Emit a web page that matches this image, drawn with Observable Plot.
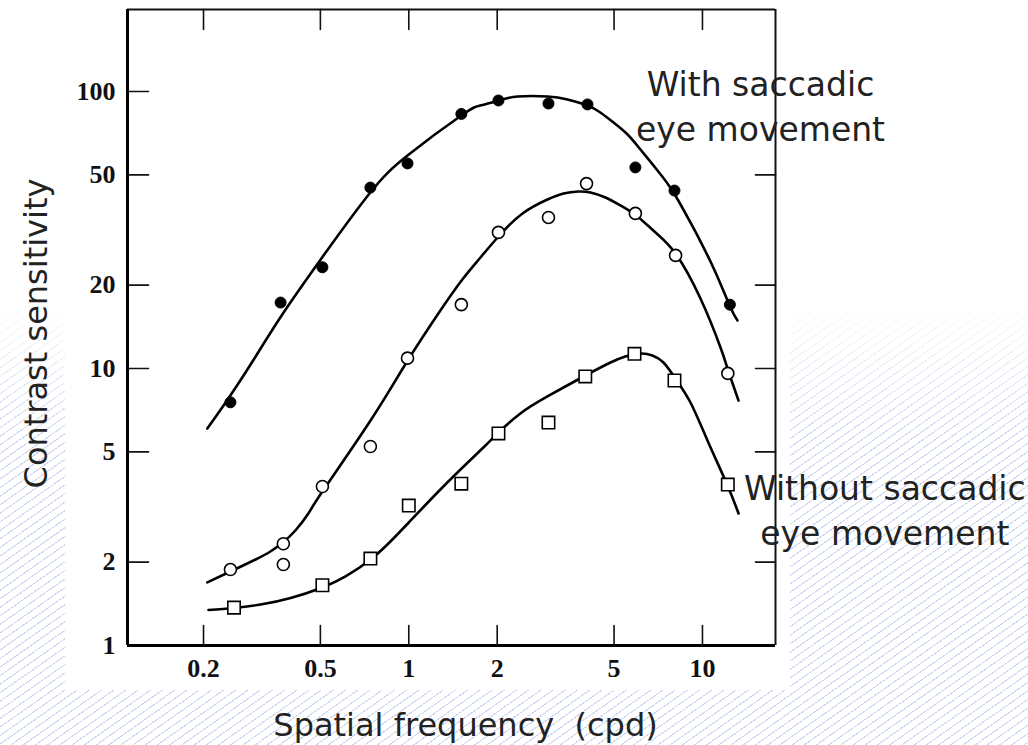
<!DOCTYPE html>
<html>
<head>
<meta charset="utf-8">
<script src="https://cdn.jsdelivr.net/npm/d3@7"></script>
<script src="https://cdn.jsdelivr.net/npm/@observablehq/plot@0.6"></script>
<style>
  html, body { margin: 0; padding: 0; background: #fff; }
  #wrap { position: relative; width: 1028px; height: 745px; overflow: hidden; background: #fff; }
  #bg {
    position: absolute; inset: 0;
    background: repeating-linear-gradient(145deg, rgba(160,178,228,0.55) 0 1px, rgba(255,255,255,0) 1px 7px);
    -webkit-mask-image: linear-gradient(to bottom, transparent 0, transparent 300px, black 440px);
    mask-image: linear-gradient(to bottom, transparent 0, transparent 300px, black 440px);
  }
  #paper { position: absolute; left: 65px; top: 0; width: 725px; height: 690px; background: #fff; }
  #chart { position: absolute; left: 0; top: 0; }
</style>
</head>
<body>
<div id="wrap">
  <div id="bg"></div>
  <div id="paper"></div>
  <div id="chart"></div>
</div>
<script>
// ---- axes ----
const xDomain = [0.1102, 17.73];
const yDomain = [1, 197.7];
const xTicks = [0.2, 0.5, 1, 2, 5, 10];
const yTicks = [1, 2, 5, 10, 20, 50, 100];
const yTicksRight = [2, 5, 10, 20, 50];

// ---- measured points ----
// filled circles: with saccadic eye movement
const filledFreq = [0.247, 0.366, 0.508, 0.74, 0.99, 1.51, 2.02, 2.99, 4.06, 5.91, 8.03, 12.4];
const filledSens = [7.55, 17.3, 23.2, 45, 55, 83, 92.8, 90.5, 89.8, 53.2, 43.9, 17.0];
// open circles
const openFreq = [0.247, 0.374, 0.374, 0.508, 0.74, 0.99, 1.51, 2.02, 2.99, 4.03, 5.91, 8.1, 12.2];
const openSens = [1.88, 2.33, 1.96, 3.75, 5.23, 10.9, 17.0, 31.0, 35.1, 46.5, 36.3, 25.6, 9.6];
// open squares: without saccadic eye movement
const squareFreq = [0.254, 0.508, 0.74, 1.0, 1.51, 2.02, 2.99, 3.99, 5.87, 8.03, 12.2];
const squareSens = [1.37, 1.65, 2.06, 3.2, 3.84, 5.83, 6.38, 9.36, 11.3, 9.05, 3.81];

// ---- fitted curves ----
const fitFilledFreq = [0.206, 0.243, 0.301, 0.369, 0.504, 0.735, 0.99, 1.51, 1.75, 2.02, 2.35, 2.97, 3.47, 4.06, 4.49, 4.98, 5.56, 6.15, 7.03, 7.97, 9.10, 9.85, 11.08, 12.46, 13.16];
const fitFilledSens = [6.07, 7.79, 11.05, 15.54, 24.96, 42.83, 58.74, 81.9, 89.0, 92.8, 95.9, 95.9, 93.6, 89.0, 84.0, 77.3, 69.96, 61.73, 51.86, 43.19, 33.66, 28.73, 22.22, 16.61, 14.91];
const fitOpenFreq = [0.206, 0.247, 0.301, 0.338, 0.372, 0.411, 0.455, 0.508, 0.741, 0.982, 1.281, 1.522, 1.754, 2.02, 2.439, 2.967, 3.364, 3.782, 4.155, 4.674, 5.258, 6.006, 6.918, 8.091, 9.845, 11.52, 12.17, 13.27];
const fitOpenSens = [1.689, 1.85, 2.044, 2.184, 2.354, 2.601, 2.996, 3.597, 6.492, 10.51, 16.19, 20.96, 25.16, 29.96, 36.27, 40.75, 42.83, 43.55, 43.19, 41.43, 38.77, 35.39, 30.97, 26.02, 17.89, 11.91, 10.0, 7.66];
const fitSquareFreq = [0.208, 0.253, 0.313, 0.396, 0.508, 0.609, 0.741, 0.866, 1.0, 1.233, 1.5, 1.824, 2.02, 2.399, 2.966, 3.996, 4.862, 5.46, 6.151, 6.755, 7.366, 8.091, 9.103, 10.4, 12.17, 13.27];
const fitSquareSens = [1.343, 1.366, 1.406, 1.484, 1.62, 1.775, 2.044, 2.374, 2.78, 3.509, 4.32, 5.272, 5.875, 6.878, 7.924, 9.434, 10.51, 11.05, 11.33, 11.14, 10.51, 9.2, 7.539, 5.496, 3.782, 2.996];

// ---- texts ----
const xTitle = "Spatial frequency  (cpd)";
const yTitle = "Contrast sensitivity";
const noteWith = "With saccadic\neye movement";
const noteWithout = "Without saccadic\neye movement";

const zip = (fs, ss) => fs.map((f, i) => ({f, s: ss[i]}));
const filled = zip(filledFreq, filledSens);
const open = zip(openFreq, openSens);
const squares = zip(squareFreq, squareSens);
const fitFilled = zip(fitFilledFreq, fitFilledSens);
const fitOpen = zip(fitOpenFreq, fitOpenSens);
const fitSquare = zip(fitSquareFreq, fitSquareSens);

const tickShape = {draw(context, l) { context.moveTo(0, 0); context.lineTo(0, -l); }};
const serif = "'Liberation Serif', 'Times New Roman', serif";
const sans = "'DejaVu Sans', Verdana, sans-serif";

const chart = Plot.plot({
  width: 1028,
  height: 745,
  marginLeft: 127,
  marginRight: 253,
  marginTop: 9,
  marginBottom: 100,
  style: {background: "transparent", overflow: "visible"},
  x: {type: "log", domain: xDomain, axis: null},
  y: {type: "log", domain: yDomain, axis: null},
  marks: [
    // frame
    Plot.ruleY([yDomain[1]], {stroke: "#111", strokeWidth: 2}),
    Plot.ruleX([xDomain[1]], {stroke: "#111", strokeWidth: 2}),
    Plot.ruleY([yDomain[0]], {stroke: "#000", strokeWidth: 3}),
    Plot.ruleX([xDomain[0]], {stroke: "#000", strokeWidth: 3}),
    // inward ticks
    Plot.vector(xTicks, {x: d => d, frameAnchor: "bottom", length: 20, rotate: 0, anchor: "start", shape: tickShape, stroke: "#111", strokeWidth: 1.6}),
    Plot.vector(xTicks, {x: d => d, frameAnchor: "top", length: 20, rotate: 180, anchor: "start", shape: tickShape, stroke: "#111", strokeWidth: 1.6}),
    Plot.vector(yTicks.slice(1), {y: d => d, frameAnchor: "left", length: 21, rotate: 90, anchor: "start", shape: tickShape, stroke: "#111", strokeWidth: 1.6}),
    Plot.vector(yTicksRight, {y: d => d, frameAnchor: "right", length: 20, rotate: -90, anchor: "start", shape: tickShape, stroke: "#111", strokeWidth: 1.6}),
    // tick labels
    Plot.text(xTicks, {x: d => d, frameAnchor: "bottom", dy: 23, text: d => String(d), fontFamily: serif, fontSize: 26, fontWeight: "bold", fill: "#111", lineAnchor: "middle"}),
    Plot.text(yTicks, {y: d => d, frameAnchor: "left", dx: -12, textAnchor: "end", text: d => String(d), fontFamily: serif, fontSize: 26, fontWeight: "bold", fill: "#111", lineAnchor: "middle"}),
    // fitted curves
    Plot.line(fitFilled, {x: "f", y: "s", curve: "natural", stroke: "#000", strokeWidth: 2.6}),
    Plot.line(fitOpen, {x: "f", y: "s", curve: "natural", stroke: "#000", strokeWidth: 2.6}),
    Plot.line(fitSquare, {x: "f", y: "s", curve: "natural", stroke: "#000", strokeWidth: 2.6}),
    // data points
    Plot.dot(filled, {x: "f", y: "s", r: 5.5, fill: "#000", stroke: "#000", strokeWidth: 1}),
    Plot.dot(open, {x: "f", y: "s", r: 6, fill: "#fff", stroke: "#000", strokeWidth: 1.6}),
    Plot.dot(squares, {x: "f", y: "s", symbol: "square", r: 7, fill: "#fff", stroke: "#000", strokeWidth: 1.6}),
    // annotations
    Plot.text([noteWith], {frameAnchor: "top-right", dx: -15, dy: 54.6, text: d => d, lineAnchor: "top", lineHeight: 1.364, textAnchor: "middle", fontFamily: sans, fontSize: 33, fill: "#222", letterSpacing: "-0.3px"}),
    Plot.text([squares[squares.length - 1]], {x: "f", y: "s", dx: 157, dy: 24, text: () => noteWithout, lineAnchor: "middle", lineHeight: 1.364, textAnchor: "middle", fontFamily: sans, fontSize: 33, fill: "#222", letterSpacing: "-0.3px"}),
    // axis titles
    Plot.text([xTitle], {frameAnchor: "bottom", dx: 14, dy: 80, text: d => d, textAnchor: "middle", fontFamily: sans, fontSize: 32, fill: "#222", lineAnchor: "middle"}),
    Plot.text([yTitle], {frameAnchor: "left", dx: -91, dy: 6, rotate: -90, text: d => d, textAnchor: "middle", fontFamily: sans, fontSize: 32, fill: "#222", lineAnchor: "middle"})
  ]
});
document.getElementById("chart").appendChild(chart);
</script>
</body>
</html>
